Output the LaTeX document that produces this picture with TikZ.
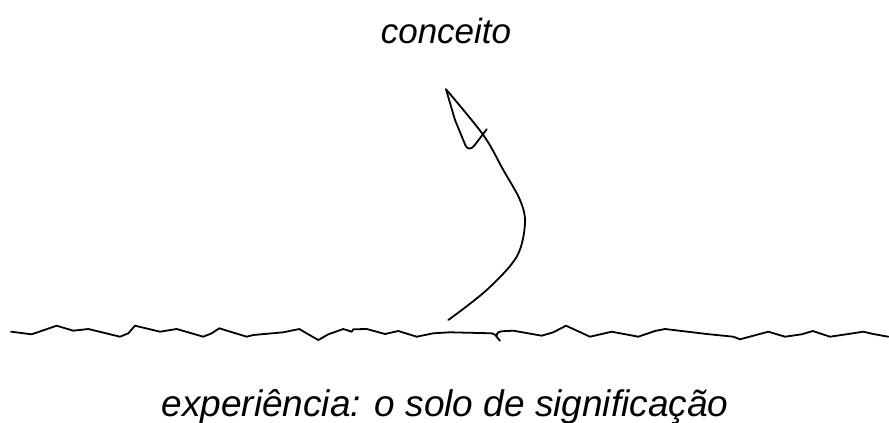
\documentclass[tikz,border=0pt]{standalone}
\usepackage{fontspec}
\setmainfont{Liberation Sans}
\begin{document}
\begin{tikzpicture}[x=1pt,y=-1pt,
  sketch/.style={line width=1.8pt,line join=round,line cap=round},
  lbl/.style={inner sep=0pt,anchor=base}]
\useasboundingbox (0,0) rectangle (889,423);
\node[lbl,font=\fontsize{35}{40}\selectfont\itshape] (top) at (446,43) {conceito};
\node[lbl,font=\fontsize{37}{42}\selectfont\itshape] (bottom) at (445,416) {experiência: o solo de significação};
\coordinate (base) at (448.3,320);
\coordinate (tip) at (446,89.3);
% arrow shaft
\draw[sketch] plot[smooth,tension=0.55] coordinates {(base) (486.7,290) (516.7,256.7) (525,223.3) (520,200) (503.3,170) (483.3,135) (tip)};
% hand-drawn head
\draw[sketch] (tip) -- (455,120) -- (465.5,145.5) .. controls (467.5,149.5) and (471,149.5) .. (474,146) -- (486.7,129.3);
% ground line
\draw[sketch] (11,331.7) -- (31.7,334.3) -- (56.7,325.7) -- (73.3,330.7) -- (88.3,329) -- (120,336.7) -- (128.3,333.3) -- (135,325.7) -- (160,331.7) -- (176.7,329) -- (203.3,336.7) -- (211.7,333.3) -- (219.3,328.3) -- (246.7,336.7) -- (253.3,335) -- (283.3,332.3) -- (299.3,329) -- (308.3,334.3) -- (318.3,340) -- (328.3,334.3) -- (343.3,329) -- (351.7,331.7) -- (353.3,329.3) -- (366.7,329) -- (385,334) -- (398.3,331) -- (416.7,336.7) -- (433.3,333.3) -- (450,332.3) -- (491.7,333.3) .. controls (496,334) and (497,338) .. (500,340.7);
\draw[sketch] (496.5,336) .. controls (497,332) and (499,331.7) .. (503,331.2) -- (513.3,330.7) -- (541.7,335.7) -- (553.3,332.3) -- (566,325.7) -- (590,336.7) -- (611.7,331.7) -- (638.3,336.7) -- (655,331) -- (665,329) -- (706.7,334) -- (733.3,336.7) -- (740,339.3) -- (768.3,331.7) -- (785,336.7) -- (801.7,334.3) -- (812.7,331) -- (830,336.7) -- (848.3,334) -- (863.3,331.7) -- (873.3,334) -- (888.3,336.7);
\end{tikzpicture}
\end{document}
